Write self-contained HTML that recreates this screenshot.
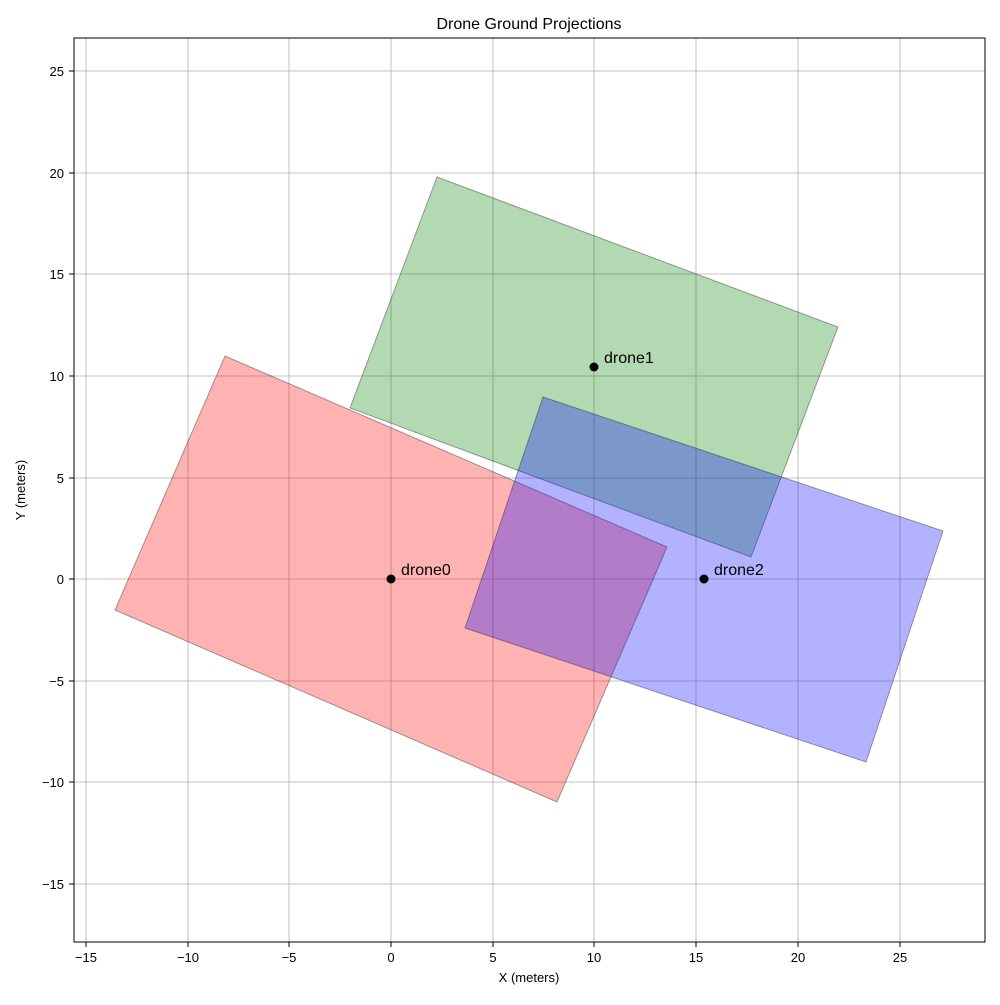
<!DOCTYPE html>
<html><head><meta charset="utf-8"><style>body{margin:0;background:#fff}</style></head><body>
<svg width="1000" height="1000" xmlns="http://www.w3.org/2000/svg" font-family="Liberation Sans, DejaVu Sans, sans-serif">
<rect width="1000" height="1000" fill="#fff"/>
<g stroke="#b0b0b0" stroke-width="0.8">
<line x1="86" y1="38" x2="86" y2="942"/><line x1="188" y1="38" x2="188" y2="942"/><line x1="289" y1="38" x2="289" y2="942"/><line x1="391" y1="38" x2="391" y2="942"/><line x1="493" y1="38" x2="493" y2="942"/><line x1="594" y1="38" x2="594" y2="942"/><line x1="696" y1="38" x2="696" y2="942"/><line x1="798" y1="38" x2="798" y2="942"/><line x1="900" y1="38" x2="900" y2="942"/>
<line x1="74" y1="71" x2="985" y2="71"/><line x1="74" y1="173" x2="985" y2="173"/><line x1="74" y1="274" x2="985" y2="274"/><line x1="74" y1="376" x2="985" y2="376"/><line x1="74" y1="478" x2="985" y2="478"/><line x1="74" y1="579" x2="985" y2="579"/><line x1="74" y1="681" x2="985" y2="681"/><line x1="74" y1="782" x2="985" y2="782"/><line x1="74" y1="884" x2="985" y2="884"/>
</g>
<polygon points="225,356 667,547 557,802 115,610" fill="rgb(255,0,0)" fill-opacity="0.3" stroke="#000" stroke-opacity="0.35"/>
<polygon points="437,177 838,327 751,557 350,408" fill="rgb(0,128,0)" fill-opacity="0.3" stroke="#000" stroke-opacity="0.35"/>
<polygon points="543,397 943,531 866,762 465,628" fill="rgb(0,0,255)" fill-opacity="0.3" stroke="#000" stroke-opacity="0.35"/>
<circle cx="391" cy="579" r="4.5" fill="#000"/><circle cx="594" cy="367" r="4.5" fill="#000"/><circle cx="704" cy="579" r="4.5" fill="#000"/>
<g font-size="16" fill="#000"><text x="401" y="575">drone0</text><text x="604" y="363">drone1</text><text x="714" y="575">drone2</text></g>
<rect x="74" y="38" width="911" height="904" fill="none" stroke="#000" stroke-width="1"/>
<g stroke="#000"><line x1="86" y1="942" x2="86" y2="947"/><line x1="188" y1="942" x2="188" y2="947"/><line x1="289" y1="942" x2="289" y2="947"/><line x1="391" y1="942" x2="391" y2="947"/><line x1="493" y1="942" x2="493" y2="947"/><line x1="594" y1="942" x2="594" y2="947"/><line x1="696" y1="942" x2="696" y2="947"/><line x1="798" y1="942" x2="798" y2="947"/><line x1="900" y1="942" x2="900" y2="947"/>
<line x1="69" y1="71" x2="74" y2="71"/><line x1="69" y1="173" x2="74" y2="173"/><line x1="69" y1="274" x2="74" y2="274"/><line x1="69" y1="376" x2="74" y2="376"/><line x1="69" y1="478" x2="74" y2="478"/><line x1="69" y1="579" x2="74" y2="579"/><line x1="69" y1="681" x2="74" y2="681"/><line x1="69" y1="782" x2="74" y2="782"/><line x1="69" y1="884" x2="74" y2="884"/></g>
<g font-size="13" text-anchor="middle"><text x="86" y="962">−15</text><text x="188" y="962">−10</text><text x="289" y="962">−5</text><text x="391" y="962">0</text><text x="493" y="962">5</text><text x="594" y="962">10</text><text x="696" y="962">15</text><text x="798" y="962">20</text><text x="900" y="962">25</text></g>
<g font-size="13" text-anchor="end"><text x="64" y="76">25</text><text x="64" y="178">20</text><text x="64" y="279">15</text><text x="64" y="381">10</text><text x="64" y="483">5</text><text x="64" y="584">0</text><text x="64" y="686">−5</text><text x="64" y="787">−10</text><text x="64" y="889">−15</text></g>
<text x="529" y="982" font-size="13" text-anchor="middle">X (meters)</text>
<text x="25" y="490" font-size="13" text-anchor="middle" transform="rotate(-90 25 490)">Y (meters)</text>
<text x="529" y="29" font-size="16" text-anchor="middle">Drone Ground Projections</text>
</svg>
</body></html>
